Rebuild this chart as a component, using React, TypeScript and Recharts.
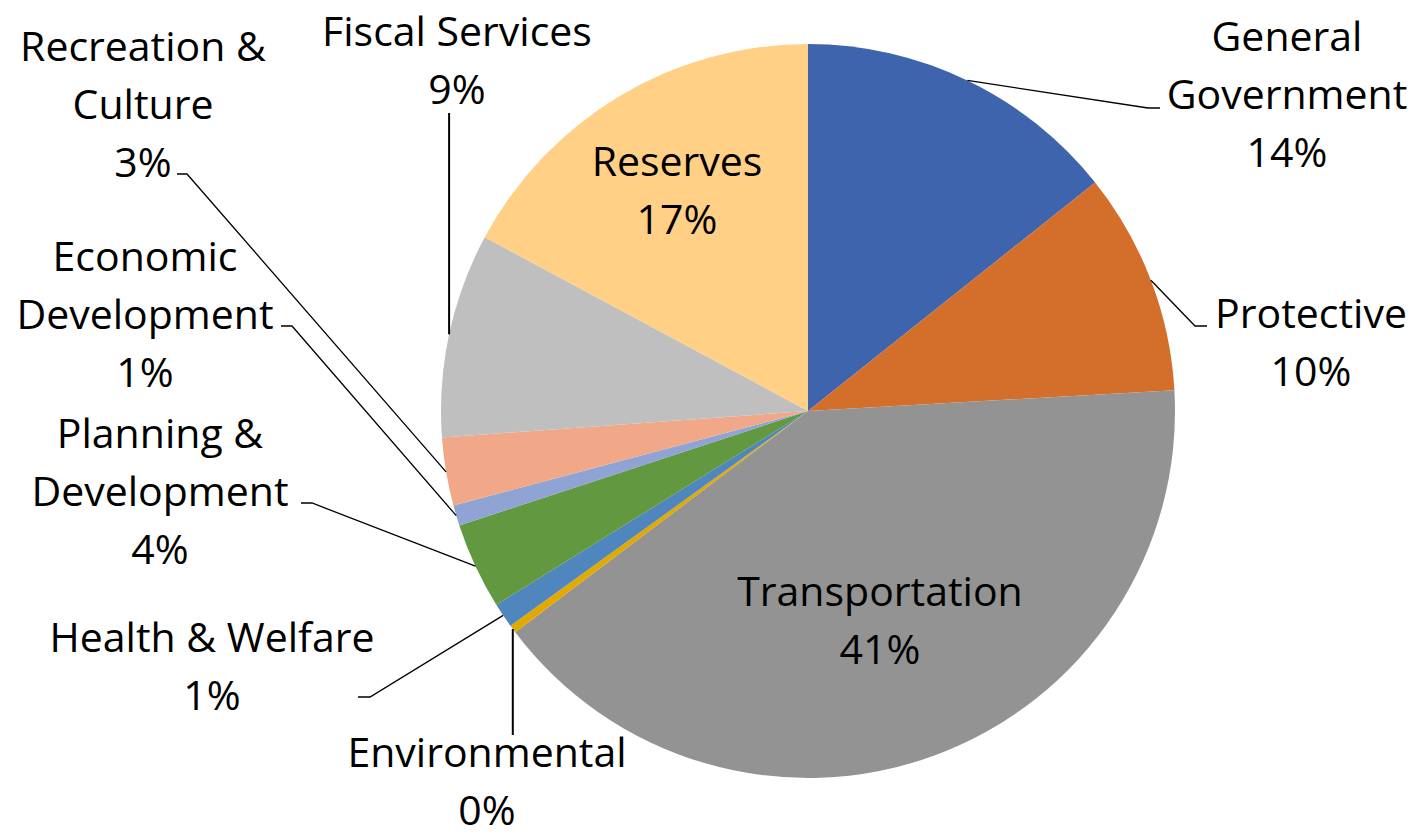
import { Cell, Pie, PieChart } from "recharts";

const categories = [
  "General Government",
  "Protective",
  "Transportation",
  "Environmental",
  "Health & Welfare",
  "Planning & Development",
  "Economic Development",
  "Recreation & Culture",
  "Fiscal Services",
  "Reserves",
];

// share of the budget, percent
const shares = [14.3, 9.8, 40.6, 0.35, 1.1, 3.8, 0.9, 3.0, 9.0, 17.15];

const labelLines = [
  ["General", "Government"],
  ["Protective"],
  ["Transportation"],
  ["Environmental"],
  ["Health & Welfare"],
  ["Planning &", "Development"],
  ["Economic", "Development"],
  ["Recreation &", "Culture"],
  ["Fiscal Services"],
  ["Reserves"],
];

const colors = [
  "#3E64AD",
  "#D46E2B",
  "#939393",
  "#E2AA00",
  "#4F86BD",
  "#62983F",
  "#8FA3D4",
  "#F0A889",
  "#BFBFBF",
  "#FFD086",
];

const data = categories.map((name, i) => ({ name, value: shares[i] }));

// label placement relative to pie centre: text centre of first line, and leader
// line points (elbow, end). Inside labels have no leader.
type Layout = { dx: number; dy: number; leader?: [number, number][] };
const layouts: Layout[] = [
  { dx: 479, dy: -376, leader: [[340, -303], [352, -303]] },
  { dx: 503, dy: -99, leader: [[387, -85], [399, -85]] },
  { dx: 72, dy: 179 },
  { dx: -321, dy: 340, leader: [[-291, 324]] },
  { dx: -596, dy: 225, leader: [[-438, 286], [-450, 286]] },
  { dx: -648, dy: 21, leader: [[-496, 92], [-507, 92]] },
  { dx: -663, dy: -156, leader: [[-516, -85], [-527, -85]] },
  { dx: -665, dy: -366, leader: [[-621, -237], [-631, -237]] },
  { dx: -351, dy: -381, leader: [[-361, -298]] },
  { dx: -131, dy: -251 },
];

const RAD = Math.PI / 180;
const lineHeight = 58;
const font = "'Open Sans', Lato, sans-serif";

function renderLabel(props: any) {
  const { cx, cy, midAngle, outerRadius, percent, index } = props;
  const lay = layouts[index];
  const lines = [...labelLines[index], `${Math.round(percent * 100)}%`];
  let leader = null;
  if (lay.leader) {
    const sx = cx + outerRadius * Math.cos(-midAngle * RAD);
    const sy = cy + outerRadius * Math.sin(-midAngle * RAD);
    const pts = [[sx, sy], ...lay.leader.map(([x, y]) => [cx + x, cy + y])];
    const vertical = lay.leader.length === 1;
    // vertical leaders keep the slice x
    if (vertical) pts[1][0] = sx;
    leader = (
      <polyline
        points={pts.map((p) => p.join(",")).join(" ")}
        fill="none"
        stroke="#000"
        strokeWidth={vertical ? 2 : 1.3}
      />
    );
  }
  return (
    <g key={`lbl-${index}`}>
      {leader}
      <text
        x={cx + lay.dx}
        y={cy + lay.dy}
        textAnchor="middle"
        dominantBaseline="central"
        fontFamily={font}
        fontSize={41}
        fill="#000"
      >
        {lines.map((t, i) => (
          <tspan key={i} x={cx + lay.dx} dy={i === 0 ? 0 : lineHeight}>
            {t}
          </tspan>
        ))}
      </text>
    </g>
  );
}

export default function App() {
  return (
    <div style={{ margin: -8 }}>
      <PieChart
        width={1416}
        height={838}
        margin={{ top: 0, right: 0, bottom: 0, left: 0 }}
      >
        <Pie
          data={data}
          dataKey="value"
          nameKey="name"
          cx={808}
          cy={411}
          outerRadius={367}
          startAngle={90}
          endAngle={-270}
          stroke="none"
          label={renderLabel}
          labelLine={false}
          isAnimationActive={false}
        >
          {data.map((d, i) => (
            <Cell key={d.name} fill={colors[i]} />
          ))}
        </Pie>
      </PieChart>
    </div>
  );
}
